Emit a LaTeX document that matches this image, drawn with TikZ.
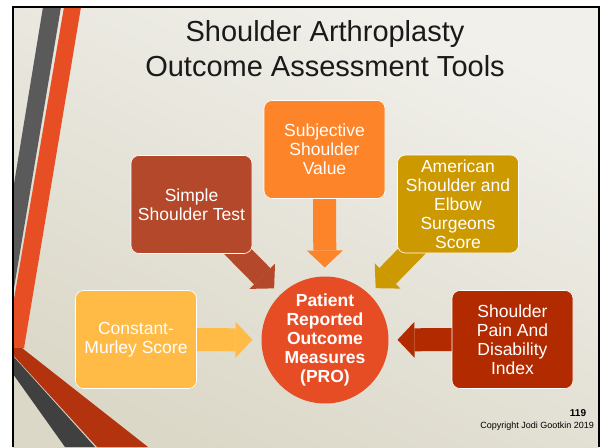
\documentclass[tikz,border=0pt]{standalone}
\usepackage{fontspec}
\setmainfont{Liberation Sans}
\usetikzlibrary{arrows.meta}
\pgfdeclarelayer{back}
\pgfsetlayers{back,main}
\definecolor{bgTop}{HTML}{F1F0EB}
\definecolor{bgBottom}{HTML}{DBD8C8}
\definecolor{stripeGray}{HTML}{5A5A5A}
\definecolor{stripeOrange}{HTML}{E84E23}
\definecolor{stripeRed}{HTML}{B3330F}
\definecolor{stripeDark}{HTML}{404040}
\definecolor{sstRed}{HTML}{B4482A}
\definecolor{ssvOrange}{HTML}{FD8429}
\definecolor{asesGold}{HTML}{CC9900}
\definecolor{cmsYellow}{HTML}{FFBB45}
\definecolor{spadiRed}{HTML}{B22A00}
\definecolor{proRed}{HTML}{E64D25}
\definecolor{titleInk}{HTML}{1A1A1A}
\tikzset{
  toolbox/.style={rounded corners=8pt, draw=white, line width=0.6pt,
    minimum width=121pt, minimum height=98pt, inner sep=0pt, outer sep=0pt,
    text=white, align=center, font=\fontsize{17.5}{19}\selectfont},
  bigarrow/.style={line width=23pt, shorten >=9pt,
    -{Triangle[length=17pt,width=36pt,line width=0pt]}}
}
\begin{document}
\begin{tikzpicture}[x=1pt,y=-1pt]
    \begin{pgfonlayer}{back}
        \fill[white] (0,0) rectangle (602,447);
        \shade[top color=bgTop, bottom color=bgBottom, shading angle=-25] (13,7) rectangle (599,447);
        \fill[stripeGray] (43,7) -- (61,7) -- (13,294) -- (13,190) -- cycle;
        \fill[stripeOrange] (64,7) -- (81,7) -- (24,348) -- (13,348) -- (13,305) -- cycle;
        \fill[stripeRed] (13,348) -- (22,348) -- (148,447) -- (97,447) -- (13,355) -- cycle;
        \fill[stripeDark] (13,356) -- (95,447) -- (65,447) -- (13,374) -- cycle;
    \end{pgfonlayer}
    \useasboundingbox (0,0) rectangle (602,447);
    \draw[black, line width=2pt] (13,447) -- (13,7) -- (598.5,7) -- (598.5,447);

    \node[font=\fontsize{29}{35}\selectfont, align=center, text=titleInk] (title) at (325,49)
        {Shoulder Arthroplasty\\Outcome Assessment Tools};

    \node[toolbox, fill=sstRed] (sst) at (191.5,204.5) {Simple\\Shoulder Test};
    \node[toolbox, fill=ssvOrange] (ssv) at (324.5,149.5) {Subjective\\Shoulder\\Value};
    \node[toolbox, fill=asesGold] (ases) at (458,204) {American\\Shoulder and\\Elbow\\Surgeons\\Score};
    \node[toolbox, fill=cmsYellow] (cms) at (136,339.5) {Constant-\\Murley Score};
    \node[toolbox, fill=spadiRed] (spadi) at (512.5,339.5) {Shoulder\\Pain And\\Disability\\Index};
    \node[circle, fill=proRed, minimum size=127pt, inner sep=0pt, outer sep=0pt, text=white,
        align=center, font=\bfseries\fontsize{17.5}{19}\selectfont] (pro) at (325,340)
        {Patient\\Reported\\Outcome\\Measures\\(PRO)};

    \node[font=\bfseries\fontsize{10}{12}\selectfont] (pagenum) at (578,413) {119};
    \node[font=\fontsize{9}{11}\selectfont, anchor=east] (copy) at (597.5,426.5) {Copyright Jodi Gootkin 2019};

    \begin{pgfonlayer}{back}
        \draw[bigarrow, ssvOrange] (ssv.center) -- (pro);
        \draw[bigarrow, sstRed] (sst.center) -- (pro);
        \draw[bigarrow, asesGold] (ases.center) -- (pro);
        \draw[bigarrow, cmsYellow] (cms.center) -- (pro);
        \draw[bigarrow, spadiRed] (spadi.center) -- (pro);
    \end{pgfonlayer}
\end{tikzpicture}
\end{document}
